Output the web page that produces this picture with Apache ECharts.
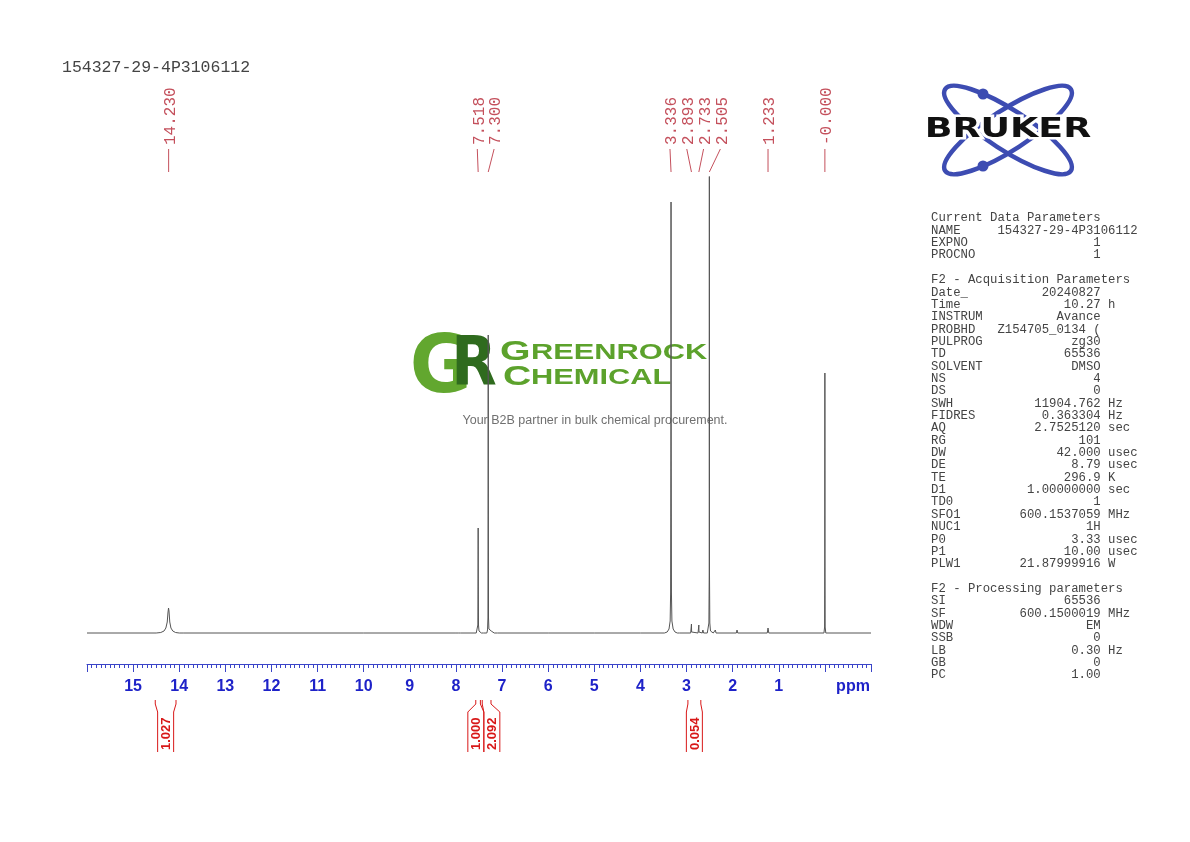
<!DOCTYPE html>
<html>
<head>
<meta charset="utf-8">
<script src="https://cdn.jsdelivr.net/npm/echarts@6/dist/echarts.min.js"></script>
<style>
html, body { margin: 0; padding: 0; background: #fff; }
#chart { width: 1190px; height: 842px; }
</style>
</head>
<body>
<div id="chart"></div>
<script>
// spectrum trace (ppm / height above baseline)
var tracePpm = [16.0, 14.50, 14.40, 14.33, 14.29, 14.26, 14.245, 14.232, 14.222, 14.205, 14.18, 14.14, 14.08, 14.00, 13.9,
	10.0, 8.00, 7.975, 7.95, 7.90,
	7.56, 7.535, 7.525, 7.520, 7.518, 7.516, 7.511, 7.50, 7.47, 7.45, 7.40,
	7.33, 7.315, 7.306, 7.302, 7.300, 7.298, 7.294, 7.285, 7.265, 7.25, 7.235, 7.22, 7.20, 7.17, 7.10,
	6.0, 5.0, 4.0,
	3.48, 3.42, 3.38, 3.355, 3.345, 3.339, 3.336, 3.333, 3.327, 3.317, 3.29, 3.25, 3.20, 3.15,
	2.91, 2.896, 2.893, 2.890, 2.75, 2.736, 2.733, 2.730, 2.66, 2.645, 2.63,
	2.55, 2.53, 2.515, 2.508, 2.505, 2.502, 2.495, 2.48, 2.45, 2.42,
	2.39, 2.375, 2.36, 2.33, 1.92, 1.905, 1.89, 1.86, 1.25, 1.233, 1.216, 1.19,
	0.02, 0.006, 0.002, 0.000, -0.002, -0.006, -0.02, -0.05, -1.0];
var traceInt = [0, 0, 0.5, 2, 5, 11, 20, 25, 22, 11, 5, 2, 0.5, 0, 0,
	0, 0, 2, 0, 0,
	0, 2, 8, 60, 105, 60, 8, 2, 0, 0, 0,
	0, 3, 15, 150, 298, 150, 15, 4, 3, 6, 2, 4, 0, 0, 0,
	0, 0, 0,
	0, 1, 4, 12, 40, 200, 431, 200, 40, 12, 4, 1, 0, 0,
	0, 1, 9, 1, 0, 1, 8, 1, 0, 3, 0,
	0, 2, 10, 60, 520, 60, 10, 2, 0, 0,
	0, 3, 0, 0, 0, 3, 0, 0, 0, 5, 0, 0,
	0, 6, 80, 260, 80, 6, 0, 0, 0];

// peak picking
var peakPpm = [14.230, 7.518, 7.300, 3.336, 2.893, 2.733, 2.505, 1.233, -0.000];
var peakText = ['14.230', '7.518', '7.300', '3.336', '2.893', '2.733', '2.505', '1.233', '-0.000'];

// integrals
var integralFrom = [14.52, 7.57, 7.43, 2.97];
var integralTo = [14.07, 7.47, 7.24, 2.69];
var integralValue = ['1.027', '1.000', '2.092', '0.054'];

// axis ticks shown
var tickLabels = [1, 2, 3, 4, 5, 6, 7, 8, 9, 10, 11, 12, 13, 14, 15];

var paramRows = [
	['Current Data Parameters'],
	['NAME', '154327-29-4P3106112'],
	['EXPNO', '1'],
	['PROCNO', '1'],
	[''],
	['F2 - Acquisition Parameters'],
	['Date_', '20240827'],
	['Time', '10.27', 'h'],
	['INSTRUM', 'Avance'],
	['PROBHD', 'Z154705_0134 ('],
	['PULPROG', 'zg30'],
	['TD', '65536'],
	['SOLVENT', 'DMSO'],
	['NS', '4'],
	['DS', '0'],
	['SWH', '11904.762', 'Hz'],
	['FIDRES', '0.363304', 'Hz'],
	['AQ', '2.7525120', 'sec'],
	['RG', '101'],
	['DW', '42.000', 'usec'],
	['DE', '8.79', 'usec'],
	['TE', '296.9', 'K'],
	['D1', '1.00000000', 'sec'],
	['TD0', '1'],
	['SFO1', '600.1537059', 'MHz'],
	['NUC1', '1H'],
	['P0', '3.33', 'usec'],
	['P1', '10.00', 'usec'],
	['PLW1', '21.87999916', 'W'],
	[''],
	['F2 - Processing parameters'],
	['SI', '65536'],
	['SF', '600.1500019', 'MHz'],
	['WDW', 'EM'],
	['SSB', '0'],
	['LB', '0.30', 'Hz'],
	['GB', '0'],
	['PC', '1.00']
];

var peakColor = '#c4505c';
var intColor = '#d81818';
var axisBlue = '#1e22c8';

function padEnd(s, n) { while (s.length < n) s += ' '; return s; }
function padStart(s, n) { while (s.length < n) s = ' ' + s; return s; }

var paramText = paramRows.map(function(r) {
	if (r.length == 1) return r[0];
	var s = padEnd(r[0], 9) + padStart(r[1], 14);
	if (r[2]) s += ' ' + r[2];
	return s;
}).join('\n');

// spread labels so they keep a minimum gap (positions sorted ascending)
function spread(pos, gap, shift) {
	var groups = [];
	pos.forEach(function(p) {
		groups.push([p]);
		while (groups.length > 1) {
			var b = groups[groups.length - 1], a = groups[groups.length - 2];
			var aEnd = mean(a) + (a.length - 1) / 2 * gap;
			var bStart = mean(b) - (b.length - 1) / 2 * gap;
			if (bStart - aEnd >= gap) break;
			groups.pop();
			groups[groups.length - 1] = a.concat(b);
		}
	});
	var out = [];
	groups.forEach(function(g) {
		var c = mean(g) + (g.length > 1 ? shift : 0);
		g.forEach(function(p, k) { out.push(c + (k - (g.length - 1) / 2) * gap); });
	});
	return out;
}
function mean(a) { var s = 0; a.forEach(function(v) { s += v; }); return s / a.length; }

function renderMarks(params, api) {
	var children = [];
	// peak labels on top
	var px = peakPpm.map(function(p) { return api.coord([p, 0])[0]; });
	var lx = spread(px, 16.8, 2.5);
	for (var i = 0; i < px.length; i++) {
		children.push({
			type: 'line',
			shape: { x1: lx[i], y1: 149, x2: px[i], y2: 172 },
			style: { stroke: peakColor, lineWidth: 1 }
		});
		children.push({
			type: 'text',
			x: lx[i] + 2, y: 145,
			rotation: Math.PI / 2,
			style: {
				text: peakText[i], fill: peakColor,
				font: '16px "Liberation Mono"',
				align: 'left', verticalAlign: 'middle'
			}
		});
	}
	// integrals under the axis
	var ix = integralFrom.map(function(f, i) {
		return [api.coord([f, 0])[0], api.coord([integralTo[i], 0])[0]];
	});
	var lab = spread(ix.map(function(a) { return (a[0] + a[1]) / 2; }), 16, 1.5);
	for (var j = 0; j < ix.length; j++) {
		var bl = lab[j] - 8, br = lab[j] + 8;
		children.push({
			type: 'polyline',
			shape: { points: [[ix[j][0], 700], [ix[j][0], 704], [bl, 712], [bl, 752]] },
			style: { stroke: intColor, fill: 'none', lineWidth: 1 }
		});
		children.push({
			type: 'polyline',
			shape: { points: [[ix[j][1], 700], [ix[j][1], 704], [br, 712], [br, 752]] },
			style: { stroke: intColor, fill: 'none', lineWidth: 1 }
		});
		children.push({
			type: 'text',
			x: lab[j] + 1, y: 750,
			rotation: Math.PI / 2,
			style: {
				text: integralValue[j], fill: intColor,
				font: 'bold 13px "Liberation Sans"',
				align: 'left', verticalAlign: 'middle'
			}
		});
	}
	return { type: 'group', children: children };
}

var chart = echarts.init(document.getElementById('chart'));
var th = Math.PI / 180 * 33;
var option = {
	animation: false,
	grid: { left: 87, right: 319, top: 177, bottom: 178, outerBoundsMode: 'none' },
	xAxis: {
		type: 'value', inverse: true, min: -1, max: 16, interval: 1,
		axisLine: { onZero: false, lineStyle: { color: '#3a44c8', width: 1 } },
		axisTick: { length: 8, lineStyle: { color: '#3a44c8' } },
		minorTick: { show: true, splitNumber: 10, length: 4, lineStyle: { color: '#3a44c8' } },
		splitLine: { show: false },
		axisLabel: {
			margin: 15, color: axisBlue,
			fontFamily: 'Liberation Sans', fontWeight: 'bold', fontSize: 16,
			formatter: function(v) { return tickLabels.indexOf(v) >= 0 ? String(v) : ''; }
		}
	},
	yAxis: { type: 'value', show: false, min: -31, max: 456 },
	series: [{
		type: 'line',
		data: tracePpm.map(function(p, i) { return [p, traceInt[i]]; }),
		showSymbol: false,
		lineStyle: { color: '#555', width: 1 },
		clip: true,
		silent: true
	}, {
		type: 'custom',
		data: [[0, 0]],
		renderItem: renderMarks,
		silent: true
	}],
	graphic: [
		// sample name
		{ type: 'text', x: 62, y: 68, style: { text: '154327-29-4P3106112', font: '16.5px "Liberation Mono"', fill: '#444', align: 'left', verticalAlign: 'middle' } },
		// ppm unit
		{ type: 'text', x: 853, y: 687, style: { text: 'ppm', font: 'bold 16px "Liberation Sans"', fill: axisBlue, align: 'center', verticalAlign: 'middle' } },
		// parameters
		{ type: 'text', x: 931, y: 212, style: { text: paramText, font: '12.3px "Liberation Mono"', lineHeight: 12.35, fill: '#444', align: 'left', verticalAlign: 'top' } },
		// Bruker logo
		{ type: 'ellipse', x: 1008, y: 130, rotation: th, shape: { cx: 0, cy: 0, rx: 75, ry: 20 }, style: { fill: 'none', stroke: '#3d4cb2', lineWidth: 4.5 } },
		{ type: 'ellipse', x: 1008, y: 130, rotation: -th, shape: { cx: 0, cy: 0, rx: 75, ry: 20 }, style: { fill: 'none', stroke: '#3d4cb2', lineWidth: 4.5 } },
		{ type: 'circle', shape: { cx: 983, cy: 94, r: 5.5 }, style: { fill: '#3d4cb2' } },
		{ type: 'circle', shape: { cx: 983, cy: 166, r: 5.5 }, style: { fill: '#3d4cb2' } },
		{ type: 'text', x: 1008, y: 130, scaleX: 1.4, style: { text: 'BRUKER', font: 'bold 26px "DejaVu Sans"', fill: '#fff', stroke: '#fff', lineWidth: 5, align: 'center', verticalAlign: 'middle' } },
		{ type: 'text', x: 1008, y: 130, scaleX: 1.4, style: { text: 'BRUKER', font: 'bold 26px "DejaVu Sans"', fill: '#111', align: 'center', verticalAlign: 'middle' } },
		// watermark
		{ type: 'text', x: 441, y: 371, scaleX: 0.95, style: { text: 'G', font: 'bold 80px "DejaVu Sans"', fill: '#62a72f', align: 'center', verticalAlign: 'middle' } },
		{ type: 'text', x: 474, y: 367, scaleX: 0.87, style: { text: 'R', font: 'bold 68px "DejaVu Sans"', fill: '#2f6b1e', align: 'center', verticalAlign: 'middle' } },
		{ type: 'text', x: 500, y: 352, scaleX: 1.4, style: { text: 'G', font: 'bold 28px "Liberation Sans"', fill: '#5ca22c', align: 'left', verticalAlign: 'middle' } },
		{ type: 'text', x: 531, y: 353, scaleX: 1.4, style: { text: 'REENROCK', font: 'bold 22px "Liberation Sans"', fill: '#5ca22c', align: 'left', verticalAlign: 'middle' } },
		{ type: 'text', x: 503, y: 377, scaleX: 1.4, style: { text: 'C', font: 'bold 28px "Liberation Sans"', fill: '#5ca22c', align: 'left', verticalAlign: 'middle' } },
		{ type: 'text', x: 531, y: 378, scaleX: 1.4, style: { text: 'HEMICAL', font: 'bold 22px "Liberation Sans"', fill: '#5ca22c', align: 'left', verticalAlign: 'middle' } },
		{ type: 'text', x: 595, y: 421, style: { text: 'Your B2B partner in bulk chemical procurement.', font: '12.5px "Liberation Sans"', fill: '#707070', align: 'center', verticalAlign: 'middle' } }
	]
};
chart.setOption(option);
</script>
</body>
</html>
